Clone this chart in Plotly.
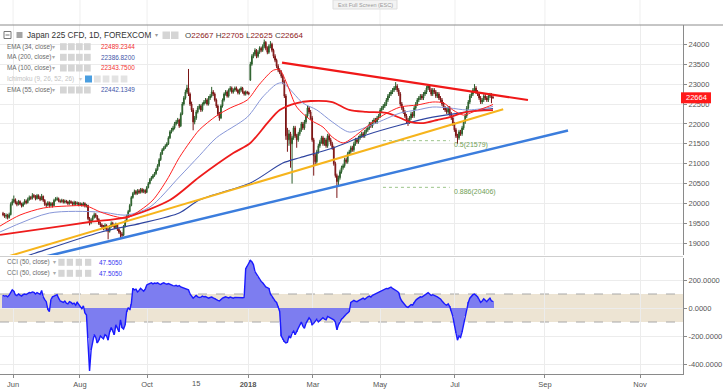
import plotly.graph_objects as go

# ---------------- data ----------------
opens = [
19750,19720,19680,19700,19650,19720,19980,20050,20100,20020,
19980,20050,19990,19940,20000,20060,20020,20100,20150,20130,
20200,20180,20120,20200,20150,20100,20180,20080,19980,19960,
20020,19950,20000,19950,20080,20100,20120,20060,20050,20080,
20030,20060,20040,20000,20050,20020,19980,20030,19990,20010,
19970,19990,19960,20000,19940,
19950,19620,19520,19580,19650,19720,19680,19600,19500,19460,
19420,19380,19450,19350,19300,19420,19500,19450,19400,19480,
19350,19280,19230,19200,19420,19550,19680,19800,
19950,20150,20250,20300,20250,20320,20280,20350,20300,20330,
20280,20400,20500,20600,20650,20700,20750,20850,20950,21100,
21250,21350,21400,21450,21500,21650,21800,21850,21900,22000,
22050,22100,21950,22250,22500,22650,22800,22900,22750,22500,
22350,22050,22150,
22300,22400,22450,22350,22500,22550,22600,22500,22650,22700,
22800,22750,22600,22450,22250,22150,22450,22600,22750,22800,
22700,22850,22900,22800,22850,22900,22850,22780,22850,22900,
22800,22750,22800,22780,
23100,23500,23700,23750,23850,23700,23800,23900,23850,23950,
24050,23900,23800,23950,24000,23850,23700,23600,23450,23350,
23300,23200,
23050,22700,21700,21600,21750,21500,21650,21900,21700,21600,
21750,21850,22000,21900,22050,22200,22400,22300,22150,21600,
21200,21050,21300,21450,21550,21650,21500,21600,21450,21700,
21600,21500,21400,21000,20700,20550,20650,20800,20900,20950,
21100,21050,21250,21300,21400,21350,21500,21600,21550,21650,
21700,21750,21700,21800,21850,21900,22000,21950,22050,22100,
22050,22150,22200,22350,22400,22450,22500,22600,22700,22750,
22800,22850,22900,22950,22850,22750,22500,22400,22300,22200,
22100,22050,22150,22250,22200,22400,22500,22600,22650,22700,
22650,22750,22800,22900,22950,22850,22750,22850,22800,22700,
22750,22650,22600,22500,22400,22350,22300,22400,22250,22150,
22000,21850,21700,21650,21800,21750,21900,22050,22200,22400,
22550,22700,22750,22850,22900,22800,22750,22650,22550,22600,
22700,22650,22600,22700,22750,22667]

highs = [
19790,19760,19750,19740,19770,20030,20120,20200,20130,20060,
20090,20080,20020,20040,20110,20100,20150,20200,20190,20260,
20240,20210,20240,20230,20190,20240,20200,20110,20020,20060,
20050,20040,20030,20120,20160,20170,20150,20100,20120,20110,
20100,20090,20070,20090,20080,20050,20070,20060,20050,20040,
20030,20020,20040,20030,19990,
19970,19660,19630,19700,19770,19760,19710,19630,19540,19500,
19460,19500,19480,19390,19460,19550,19540,19490,19520,19500,
19380,19320,19280,19460,19590,19720,19840,19990,
20190,20290,20350,20340,20360,20360,20390,20390,20370,20360,
20440,20540,20640,20690,20740,20790,20890,20990,21140,21290,
21390,21440,21490,21540,21690,21840,21900,21950,22050,22100,
22150,22130,22290,22550,22700,22860,22980,23380,22790,22560,
22400,22200,22350,
22450,22500,22490,22540,22600,22650,22640,22700,22750,22930,
22850,22790,22640,22490,22300,22490,22640,22790,22850,22840,
22890,22950,22940,22890,22940,22940,22880,22890,22940,22930,
22830,22840,22830,22810,
23560,23750,23800,23900,23880,23850,23950,23940,24000,24120,
24080,23950,24000,24080,24040,23890,23750,23640,23500,23400,
23350,23250,
23100,22750,21900,21850,21800,21700,21950,21950,21750,21800,
21900,22050,22050,22100,22250,22450,22450,22350,22200,21650,
21250,21350,21500,21600,21700,21700,21650,21650,21750,21750,
21650,21550,21450,21050,20750,20700,20850,20950,21000,21150,
21150,21300,21350,21450,21450,21550,21650,21650,21700,21750,
21800,21800,21850,21900,21950,22050,22050,22100,22150,22150,
22200,22250,22400,22450,22500,22550,22650,22750,22800,22850,
22900,22950,23050,23000,22900,22800,22550,22450,22350,22250,
22150,22200,22300,22300,22450,22550,22650,22700,22750,22750,
22800,22850,22950,23000,23000,22900,22900,22900,22850,22800,
22800,22700,22650,22550,22450,22400,22450,22450,22300,22200,
22050,21900,21750,21850,21850,21950,22100,22250,22450,22600,
22750,22800,22900,23000,22950,22850,22800,22700,22650,22750,
22750,22700,22750,22780,22770,22705]

lows = [
19680,19640,19620,19600,19620,19700,19950,20010,19980,19930,
19950,19960,19900,19910,19970,19980,20000,20070,20090,20100,
20140,20080,20100,20110,20060,20080,20040,19940,19910,19930,
19900,19920,19900,19930,20050,20070,20030,20010,20020,20000,
20000,20000,19960,19970,19990,19940,19950,19960,19960,19930,
19940,19920,19930,19900,19900,
19580,19450,19480,19540,19620,19640,19560,19460,19410,19370,
19330,19340,19300,19100,19270,19390,19410,19360,19370,19310,
19240,19130,19150,19180,19400,19530,19650,19780,
19930,20120,20220,20210,20220,20240,20250,20260,20260,20240,
20260,20380,20480,20570,20620,20670,20720,20820,20920,21070,
21220,21320,21370,21420,21470,21620,21760,21810,21860,21960,
22000,21900,21920,22220,22460,22610,22760,22700,22450,22300,
21840,21990,22100,
22260,22360,22300,22310,22460,22510,22460,22460,22600,22660,
22700,22560,22400,22200,22080,22120,22410,22560,22710,22660,
22660,22810,22760,22760,22810,22810,22740,22740,22810,22760,
22710,22710,22740,22720,
23080,23460,23650,23700,23650,23660,23760,23800,23810,23900,
23850,23750,23760,23900,23800,23650,23550,23400,23300,23250,
23150,23000,
22650,21600,21300,21450,20900,20500,21600,21650,21400,21550,
21700,21800,21850,21850,22000,22150,22250,22100,21550,20700,
20950,21000,21250,21400,21500,21450,21450,21400,21400,21550,
21450,21350,20950,20650,20140,20450,20600,20750,20850,20900,
21000,21000,21200,21250,21300,21300,21450,21500,21500,21600,
21650,21650,21650,21750,21800,21850,21900,21900,22000,22000,
22000,22100,22150,22300,22350,22400,22450,22550,22650,22700,
22750,22800,22850,22800,22700,22450,22350,22250,22150,22000,
21950,22000,22100,22150,22150,22350,22450,22550,22600,22600,
22600,22700,22750,22850,22800,22700,22700,22750,22650,22650,
22600,22550,22450,22350,22300,22250,22250,22200,22100,21950,
21800,21650,21500,21600,21700,21700,21850,22000,22150,22350,
22500,22650,22700,22800,22750,22700,22600,22500,22500,22550,
22600,22550,22550,22650,22520,22625]

closes = [
19720,19680,19700,19650,19720,19980,20050,20100,20020,19980,
20050,19990,19940,20000,20060,20020,20100,20150,20130,20200,
20180,20120,20200,20150,20100,20180,20080,19980,19960,20020,
19950,20000,19950,20080,20100,20120,20060,20050,20080,20030,
20060,20040,20000,20050,20020,19980,20030,19990,20010,19970,
19990,19960,20000,19940,19950,
19620,19520,19580,19650,19720,19680,19600,19500,19460,19420,
19380,19450,19350,19300,19420,19500,19450,19400,19480,19350,
19280,19230,19200,19420,19550,19680,19800,19950,
20150,20250,20300,20250,20320,20280,20350,20300,20330,20280,
20400,20500,20600,20650,20700,20750,20850,20950,21100,21250,
21350,21400,21450,21500,21650,21800,21850,21900,22000,22050,
22100,21950,22250,22500,22650,22800,22900,22750,22500,22350,
22050,22150,22300,
22400,22450,22350,22500,22550,22600,22500,22650,22700,22800,
22750,22600,22450,22250,22150,22450,22600,22750,22800,22700,
22850,22900,22800,22850,22900,22850,22780,22850,22900,22800,
22750,22800,22780,22760,
23500,23700,23750,23850,23700,23800,23900,23850,23950,24050,
23900,23800,23950,24000,23850,23700,23600,23450,23350,23300,
23200,23050,
22700,21700,21600,21750,21500,21650,21900,21700,21600,21750,
21850,22000,21900,22050,22200,22400,22300,22150,21600,21200,
21050,21300,21450,21550,21650,21500,21600,21450,21700,21600,
21500,21400,21000,20700,20550,20650,20800,20900,20950,21100,
21050,21250,21300,21400,21350,21500,21600,21550,21650,21700,
21750,21700,21800,21850,21900,22000,21950,22050,22100,22050,
22150,22200,22350,22400,22450,22500,22600,22700,22750,22800,
22850,22900,22950,22850,22750,22500,22400,22300,22200,22100,
22050,22150,22250,22200,22400,22500,22600,22650,22700,22650,
22750,22800,22900,22950,22850,22750,22850,22800,22700,22750,
22650,22600,22500,22400,22350,22300,22400,22250,22150,22000,
21850,21700,21650,21800,21750,21900,22050,22200,22400,22550,
22700,22750,22850,22900,22800,22750,22650,22550,22600,22700,
22650,22600,22700,22750,22650,22664]

cci = [
90,85,88,80,92, 115,130,120, 95,88,100,92,85,95,100,96,
105,110,108,115,112,100,110,105,98,125, 80,60,45, -10,-25,
60,80,85,90,95,70, 50,45,40,50,35,30,45,40,30,35,20,40,
25,10,-5,15,-35, -50, -215, -450,
-300,-240,-190,-210,-250,-230,-200, -210,-220,-190,-200,-230,-170,
-140,-160,-190,-120,-150,-170, -85, -140,-150,-120, -25,0,-10,30,
140,130,135, 115,125,140,130,120,135, 165,170,175,180,172,178,
175,180,172,168,176,180,174,170,175,168, 165,160,158,162,155,160,150,
145,140,138,135,130, 100,85,70,80,90,
80,75,78,85,80,82,76,70,75,78,72,68,60,55,50,62,70,75,80,76,72,78,74,70,76,
75,72,70,74,73,75, 280, 300,320, 340,330,310, 260,240,220,200,190,
180,160,150,145,140, 100,80,60,50,40, 10,-25, -200,-225, -240,-250,-245,
-200,-215,-180,-165,-190,-170, -140,-120,-100,-130,-145,-110,
-90,-70,-85,-120,-110,-95,-80,-100,-90, -75,-70,-80,-85,-60,-65,-70,-80,-85,
-100, -155, -120,-95,-80,-70,-55,-45,-35,-25, 40,50,55,48,45,52,
60,65,70,62,75,80,85,78,90,95,100,105,110,
120,125,130,135,140,138,145,150,140,135,130,120,110,
70,50,35,20,10,5,15,25,20,
40,55,65,75,80,78,85,95,105,110,100,90,95,92,85,
80,75,65,50,35,25,20,30,10,-20,-60,
-120,-180,-230,-200,-210,-170,-120,-60,
0,40,70,85,95,100,90,80,
60,40,50,65,55,45,60,70,50,47.505]

# moving averages read at anchor bars (bar index, value)
ema34_i = [-1.9, 11, 26, 41, 54, 63, 74, 80, 89, 97, 106, 114, 121, 127, 138, 147, 158, 166, 175, 179, 184, 190, 199, 207, 213, 220, 226, 235, 246, 257, 268, 278, 285, 291, 298, 304, 313, 317]
ema34_v = [19434, 19710, 19886, 19936, 19936, 19786, 19660, 19635, 19836, 20087, 20590, 21150, 21550, 21850, 22200, 22400, 22600, 23000, 23350, 23354, 22977, 22424, 22098, 21920, 21670, 21520, 21645, 21920, 22220, 22424, 22474, 22550, 22525, 22350, 22220, 22300, 22424, 22489]
ema55_i = [-1.9, 30, 63, 80, 95, 114, 127, 138, 158, 168, 177, 181, 194, 203, 213, 224, 235, 246, 257, 268, 278, 289, 300, 313, 317]
ema55_v = [19285, 19760, 19786, 19710, 19910, 20665, 21200, 21650, 22170, 22675, 23000, 23028, 22525, 22350, 22050, 21795, 21920, 22098, 22274, 22350, 22424, 22400, 22350, 22400, 22442]
ma100_i = [-1.9, 30, 56, 80, 108, 127, 149, 160, 171, 179, 190, 199, 213, 224, 235, 248, 257, 263, 272, 281, 289, 300, 317]
ma100_v = [19210, 19385, 19535, 19660, 20087, 20665, 21266, 21520, 22020, 22350, 22525, 22575, 22550, 22350, 22300, 22274, 22148, 22050, 22020, 22098, 22170, 22300, 22344]
ma200_i = [-1.9, 20.7, 63, 89, 114, 127, 160, 181, 192, 213, 235, 257, 278, 300, 317]
ma200_v = [18450, 18750, 19280, 19500, 19760, 20087, 20514, 21015, 21150, 21390, 21720, 21970, 22170, 22300, 22387]

# drawn trend lines (bar index, price)
red_tl = ([180.5, 339.6], [23538, 22600])
orange_tl = ([-1.9, 323.6], [18610, 22367])
blue_tl = ([-1.9, 365.5], [18392, 21834])
fib_levels = [21579, 20406]
fib_names = ["0.5(21579)", "0.886(20406)"]
fib_span = [245.8, 289.0]

tick_pos = [6.5, 49.8, 93.2, 158.5, 200.5, 243.9, 292.4, 350.6, 412.1]
tick_lab = ["Jun", "Aug", "Oct", "<b>2018</b>", "Mar", "May", "Jul", "Sep", "Nov"]
extra_tick = (124.9, "15")
price_ticks = [19000, 19500, 20000, 20500, 21000, 21500, 22000, 22500, 23000, 23500, 24000]
cci_ticks = [200, 0, -200, -400]

legend_rows = [("EMA (34, close)", "22489.2344", "#f23030"),
               ("MA (200, close)", "22386.8200", "#3f55a8"),
               ("MA (100, close)", "22343.7500", "#f23030"),
               ("Ichimoku (9, 26, 52, 26)", "", ""),
               ("EMA (55, close)", "22442.1349", "#3f55a8")]
last_price = 22664
cci_last = "47.5050"

# ---------------- figure ----------------
W, H = 723, 392
PW = 683.0
FONT = "Liberation Sans, Arial, sans-serif"

def X(px):
    return px / PW

def Y(py):
    return 1 - py / H

n = min(len(opens), len(highs), len(lows), len(closes))
idx = list(range(n))
nc = len(cci)

fig = go.Figure()

fig.add_trace(go.Candlestick(
    x=idx, open=opens[:n], high=highs[:n], low=lows[:n], close=closes[:n],
    increasing=dict(line=dict(color="#2b5e2b", width=1), fillcolor="#3f8f3f"),
    decreasing=dict(line=dict(color="#7a1515", width=1), fillcolor="#d42a2a"),
    whiskerwidth=0, xaxis="x", yaxis="y", hoverinfo="skip", showlegend=False))

def line_tr(xs, ys, color, width, ax="x", ay="y", dash=None, spline=True):
    return go.Scatter(x=xs, y=ys, mode="lines", xaxis=ax, yaxis=ay,
                      line=dict(color=color, width=width, dash=dash,
                                shape="spline" if spline else "linear", smoothing=0.8),
                      hoverinfo="skip", showlegend=False)

fig.add_trace(line_tr(ma200_i, ma200_v, "#2f45a0", 1.1))
fig.add_trace(line_tr(ma100_i, ma100_v, "#ee1c1c", 1.8))
fig.add_trace(line_tr(ema55_i, ema55_v, "#8796d8", 1.0))
fig.add_trace(line_tr(ema34_i, ema34_v, "#ff2020", 1.0))

fig.add_trace(line_tr(orange_tl[0], orange_tl[1], "#f6b41c", 2, spline=False))
fig.add_trace(line_tr(blue_tl[0], blue_tl[1], "#3b7ddd", 2.6, spline=False))
fig.add_trace(line_tr(red_tl[0], red_tl[1], "#f01818", 2.2, spline=False))
for lv in fib_levels:
    fig.add_trace(line_tr(fib_span, [lv, lv], "#9cc48a", 1, dash="dot", spline=False))

# CCI
fig.add_trace(go.Bar(x=list(range(nc)), y=cci, width=0.45, xaxis="x2", yaxis="y2",
                     marker=dict(color="#7d7df0", line=dict(width=0)),
                     hoverinfo="skip", showlegend=False))
fig.add_trace(go.Scatter(x=list(range(nc)), y=cci, mode="lines", xaxis="x2", yaxis="y2",
                         line=dict(color="#1a1aff", width=1.4), hoverinfo="skip", showlegend=False))

main_dom = [Y(255), Y(25)]
cci_dom = [Y(374), Y(258)]
xr = [-1.94, 439.9]
ytop = 24000 + (44.3 - 25) / 0.0398
ybot = 19000 - (255 - 243.3) / 0.0398
cci_top = (308 - 258) / 0.14
cci_bot = -(374 - 308) / 0.14

axis_font = dict(family=FONT, size=7.5, color="#555")
fig.update_layout(
    width=W, height=H, margin=dict(l=0, r=W - PW, t=0, b=0),
    paper_bgcolor="white", plot_bgcolor="white", showlegend=False, bargap=0,
    xaxis=dict(domain=[0, 1], range=xr, anchor="y", tickmode="array", tickvals=tick_pos,
               showticklabels=False, showgrid=True, gridcolor="#ececec", gridwidth=1,
               zeroline=False, showline=False, ticks="", rangeslider=dict(visible=False)),
    yaxis=dict(domain=main_dom, range=[ybot, ytop], anchor="x", side="right",
               tickmode="array", tickvals=price_ticks, ticktext=[str(v) for v in price_ticks],
               showgrid=True, gridcolor="#ececec", zeroline=False, showline=True,
               linecolor="#8a8a8a", linewidth=1, ticks="outside", ticklen=3, tickcolor="#8a8a8a",
               tickfont=axis_font),
    xaxis2=dict(domain=[0, 1], range=xr, anchor="y2", matches="x", tickmode="array",
                tickvals=tick_pos, ticktext=tick_lab, showgrid=True, gridcolor="#ececec",
                zeroline=False, showline=True, linecolor="#8a8a8a", linewidth=1,
                ticks="outside", ticklen=3, tickcolor="#8a8a8a", tickfont=axis_font),
    yaxis2=dict(domain=cci_dom, range=[cci_bot, cci_top], anchor="x2", side="right",
                tickmode="array", tickvals=cci_ticks, ticktext=["%.4f" % v for v in cci_ticks],
                showgrid=True, gridcolor="#ececec", zeroline=False, showline=True,
                linecolor="#8a8a8a", linewidth=1, ticks="outside", ticklen=3, tickcolor="#8a8a8a",
                tickfont=axis_font),
)

shapes = []
ann = []

# grid lines continuing into the top strip
for tp in tick_pos:
    shapes.append(dict(type="line", xref="x", yref="paper", x0=tp, x1=tp, y0=Y(25), y1=Y(0),
                       line=dict(color="#efefef", width=1), layer="below"))

# CCI band
shapes.append(dict(type="rect", xref="x2 domain", yref="y2", x0=0, x1=1, y0=-100, y1=100,
                   fillcolor="#ede4d3", line=dict(width=0), layer="below"))
for lv in (100, -100):
    shapes.append(dict(type="line", xref="x2 domain", yref="y2", x0=0, x1=1, y0=lv, y1=lv,
                       line=dict(color="#a8a8a8", width=1, dash="dash"), layer="below"))
# frame lines
shapes.append(dict(type="line", xref="paper", yref="paper", x0=0, x1=X(W), y0=Y(25), y1=Y(25),
                   line=dict(color="#8c8c8c", width=1)))
shapes.append(dict(type="line", xref="paper", yref="paper", x0=0, x1=X(PW), y0=Y(256.5), y1=Y(256.5),
                   line=dict(color="#cfcfcf", width=1)))

# price label
shapes.append(dict(type="rect", xref="paper", yref="paper", x0=X(681), x1=X(711), y0=Y(103.3), y1=Y(92.3),
                   fillcolor="#ff1a1a", line=dict(width=0), layer="above"))
ann.append(dict(xref="paper", yref="paper", x=X(696), y=Y(97.8), text=str(last_price), showarrow=False,
                font=dict(family=FONT, size=7.5, color="white"), xanchor="center", yanchor="middle"))

# extra x label
ann.append(dict(xref="x2", yref="paper", x=extra_tick[0], y=Y(383), text=extra_tick[1], showarrow=False,
                font=axis_font, xanchor="center", yanchor="middle"))

# fib labels
for lv, nm in zip(fib_levels, fib_names):
    ann.append(dict(xref="x", yref="y", x=fib_span[1] + 1.5, y=lv, yshift=-4.5, text=nm, showarrow=False,
                    font=dict(family=FONT, size=7, color="#6f9e55"), xanchor="left", yanchor="middle"))

def box(x0, y0, w, h, color):
    shapes.append(dict(type="rect", xref="paper", yref="paper", x0=X(x0), x1=X(x0 + w),
                       y0=Y(y0 + h), y1=Y(y0), fillcolor=color, line=dict(width=0), layer="above"))

def text(x, y, s, size, color, anchor="left"):
    ann.append(dict(xref="paper", yref="paper", x=X(x), y=Y(y), text=s, showarrow=False,
                    font=dict(family=FONT, size=size, color=color), xanchor=anchor, yanchor="middle"))

# exit full screen
shapes.append(dict(type="rect", xref="paper", yref="paper", x0=X(333), x1=X(397), y0=Y(9), y1=Y(0),
                   fillcolor="#f3f3f3", line=dict(color="#dddddd", width=1), layer="above"))
text(365, 4.5, "Exit Full Screen (ESC)", 5.5, "#9a9a9a", "center")

# title row
shapes.append(dict(type="rect", xref="paper", yref="paper", x0=X(4), x1=X(11), y0=Y(38.5), y1=Y(31.5),
                   fillcolor="white", line=dict(color="#777", width=1), layer="above"))
shapes.append(dict(type="line", xref="paper", yref="paper", x0=X(5.5), x1=X(9.5), y0=Y(35), y1=Y(35),
                   line=dict(color="#777", width=1), layer="above"))
box(16.5, 32, 6, 6, "#a3a3a3")
text(25, 35, "Japan 225 CFD, 1D, FOREXCOM", 8.2, "#333")
text(153, 35, "▾", 6, "#999")
box(162.5, 31.5, 7.5, 7.5, "#d5d5d5")
box(171, 31.5, 7.5, 7.5, "#d5d5d5")
ohlc = ("O<span style='color:#8e2020'>22667</span> H<span style='color:#8e2020'>22705</span> "
        "L<span style='color:#8e2020'>22625</span> C<span style='color:#8e2020'>22664</span>")
text(182.5, 35, ohlc, 8, "#444")

row_y = [46.7, 57.3, 68, 79, 90]
for (name, val, col), ry in zip(legend_rows, row_y):
    if name.startswith("Ichimoku"):
        text(5, ry, name, 6.4, "#c2c2c2")
        text(77, ry, "▾", 5.5, "#ccc")
        box(85, ry - 3.5, 7, 7, "#4a9ee0")
        for bx in (94, 102.7, 111.7, 120.7):
            box(bx, ry - 3.5, 6.7, 7, "#e3e3e3")
    else:
        text(5, ry, name, 6.4, "#6a6a6a")
        text(50, ry, "▾", 5.5, "#aaa")
        for bx in (60, 68, 76, 84):
            box(bx, ry - 3.5, 6.7, 7, "#d5d5d5")
        text(99, ry, val, 6.4, col)

for ry in (262.3, 273.3):
    text(5, ry, "CCI (50, close)", 6.4, "#6a6a6a")
    text(50.5, ry, "▾", 5.5, "#aaa")
    for bx in (58.3, 66.7, 75.7, 85):
        box(bx, ry - 3.5, 6.3, 7, "#d5d5d5")
    text(96.7, ry, cci_last, 6.4, "#3535f0")

fig.update_layout(shapes=shapes, annotations=ann)
fig.write_html("out.html", include_plotlyjs=True, config={"displayModeBar": False},
               post_script="document.body.style.margin='0';document.body.style.overflow='hidden';")
